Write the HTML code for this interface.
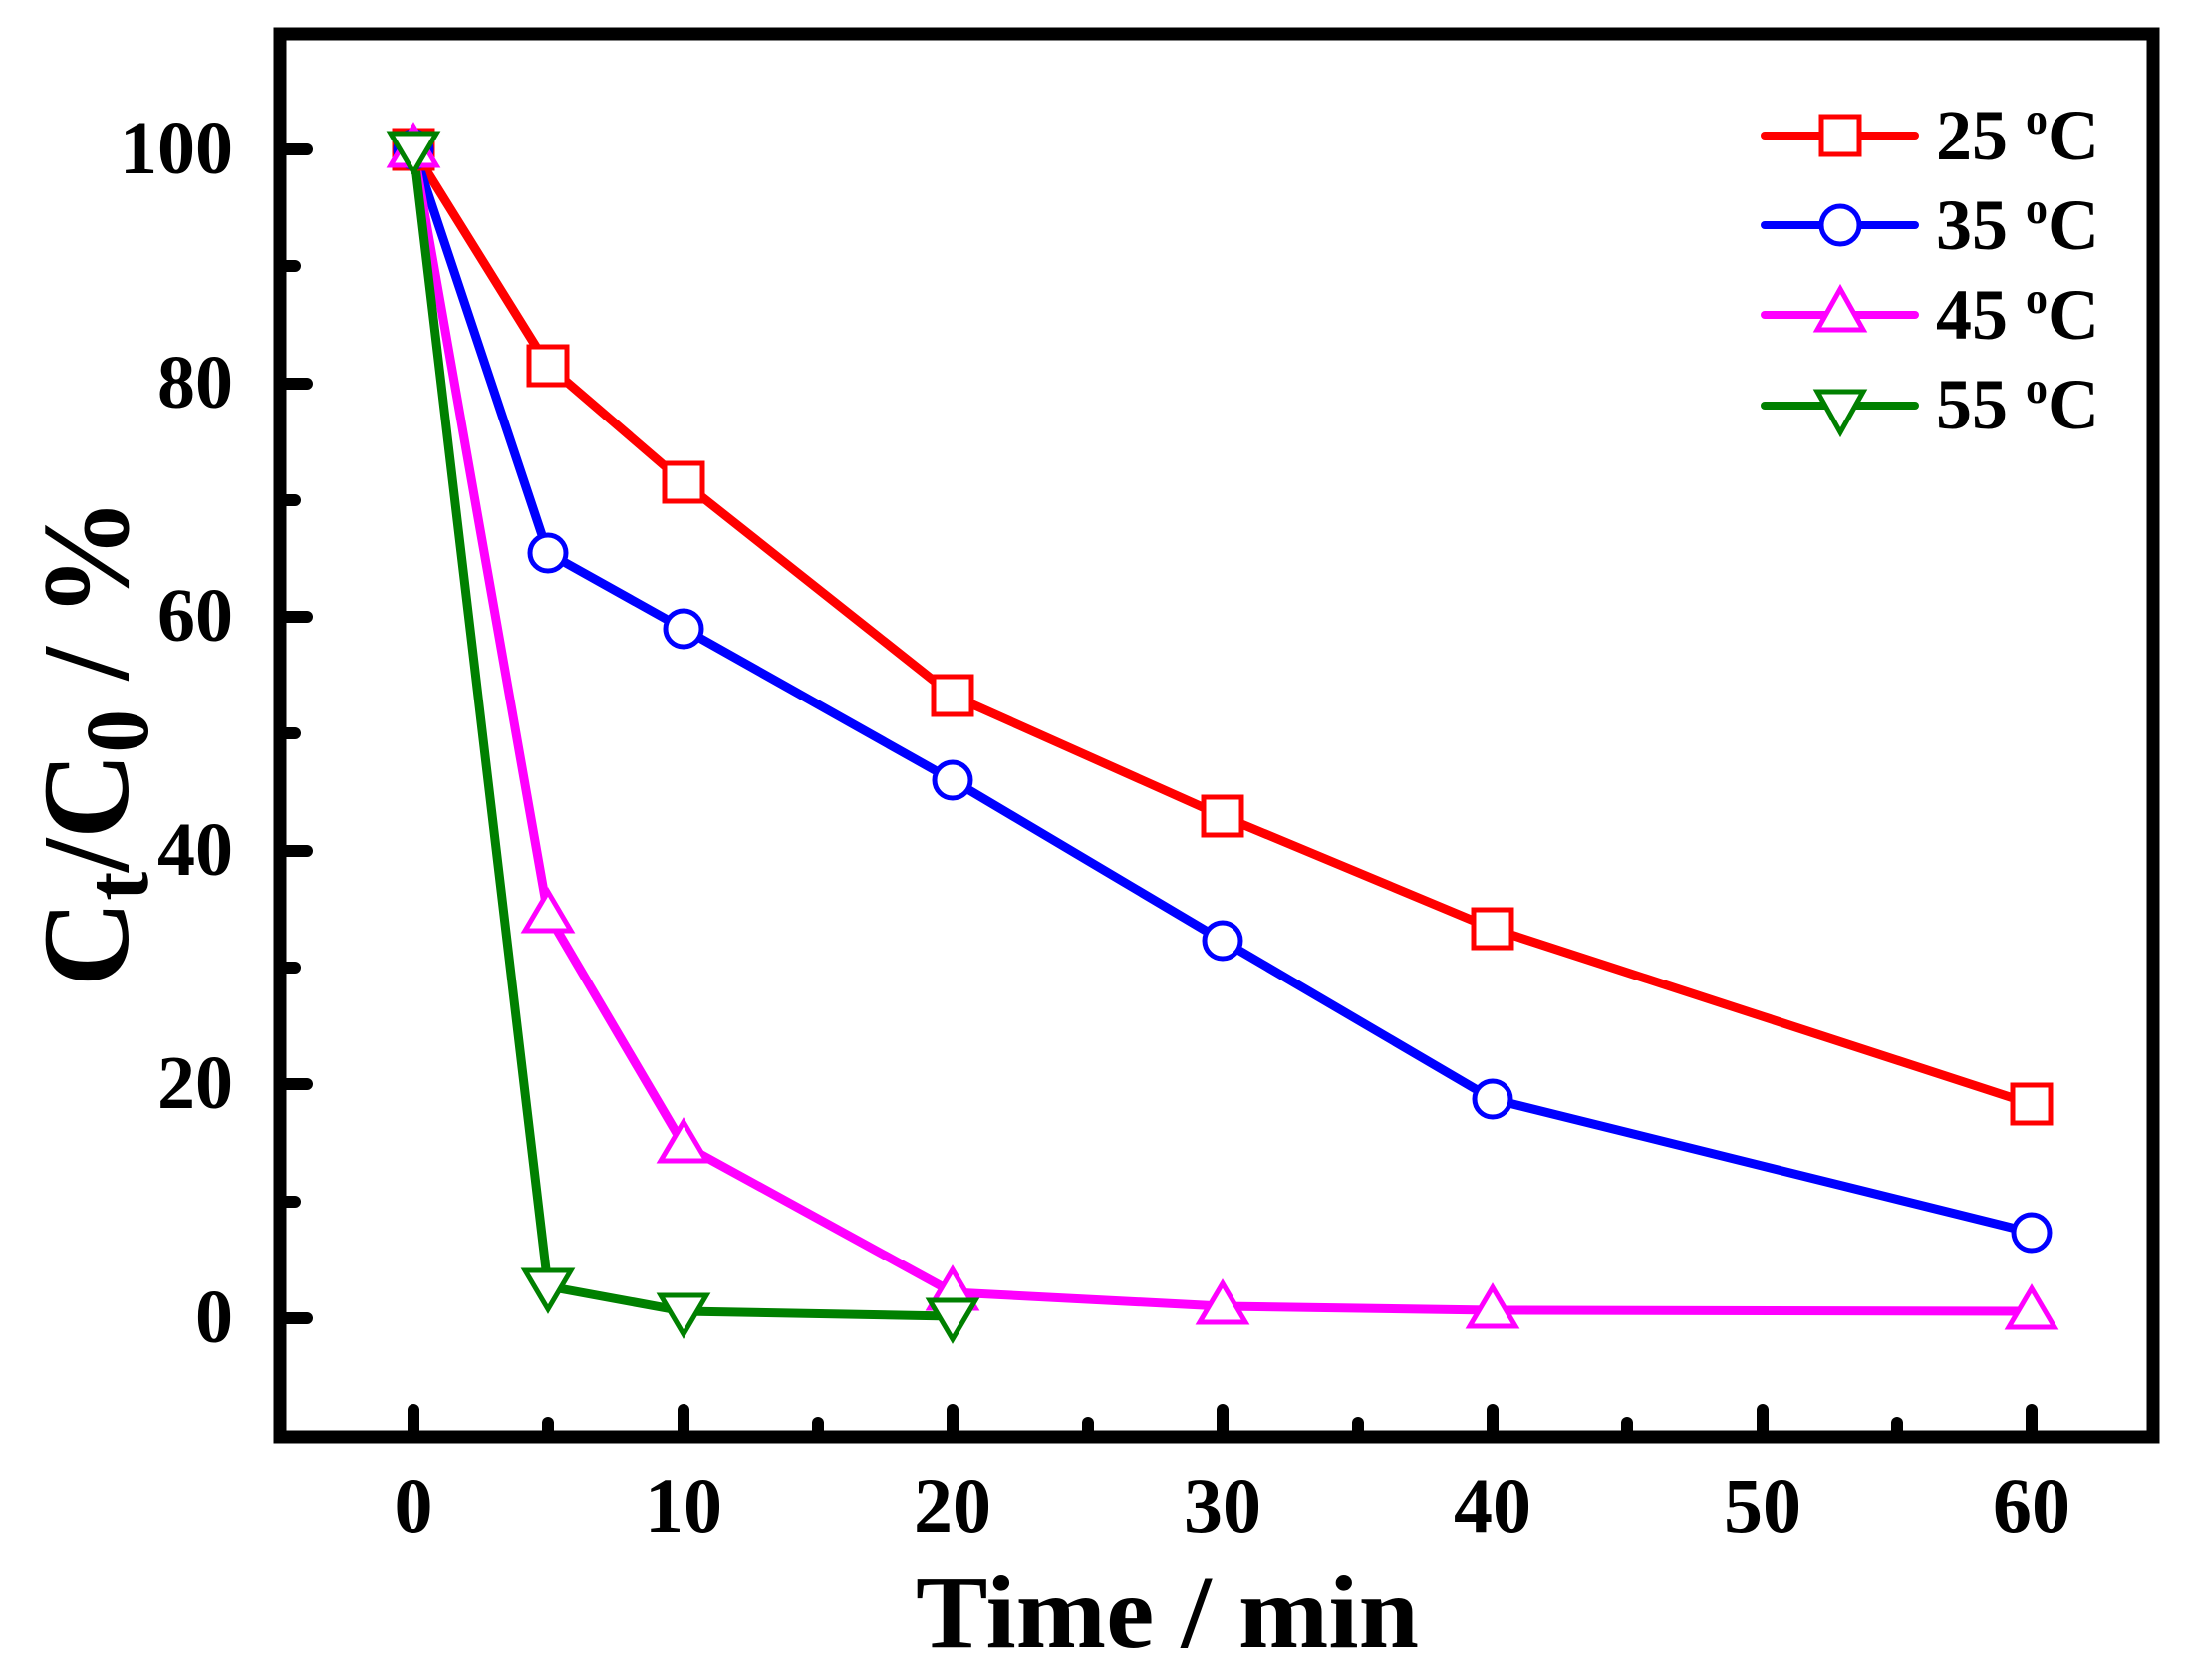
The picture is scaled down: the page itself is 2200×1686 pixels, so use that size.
<!DOCTYPE html>
<html><head><meta charset="utf-8"><style>html,body{margin:0;padding:0;background:#fff}svg{display:block}</style></head>
<body>
<svg width="2200" height="1686" viewBox="0 0 2200 1686" xmlns="http://www.w3.org/2000/svg" font-family="'Liberation Serif', serif" font-weight="bold">
<rect width="2200" height="1686" fill="#fff"/>
<g stroke="#000" stroke-width="12" stroke-linecap="round">
<line x1="281" y1="150" x2="308" y2="150"/>
<line x1="281" y1="385" x2="308" y2="385"/>
<line x1="281" y1="619" x2="308" y2="619"/>
<line x1="281" y1="854" x2="308" y2="854"/>
<line x1="281" y1="1088" x2="308" y2="1088"/>
<line x1="281" y1="1323" x2="308" y2="1323"/>
<line x1="281" y1="267" x2="296" y2="267"/>
<line x1="281" y1="502" x2="296" y2="502"/>
<line x1="281" y1="736" x2="296" y2="736"/>
<line x1="281" y1="971" x2="296" y2="971"/>
<line x1="281" y1="1206" x2="296" y2="1206"/>
<line x1="415" y1="1442" x2="415" y2="1415"/>
<line x1="686" y1="1442" x2="686" y2="1415"/>
<line x1="956" y1="1442" x2="956" y2="1415"/>
<line x1="1227" y1="1442" x2="1227" y2="1415"/>
<line x1="1498" y1="1442" x2="1498" y2="1415"/>
<line x1="1769" y1="1442" x2="1769" y2="1415"/>
<line x1="2039" y1="1442" x2="2039" y2="1415"/>
<line x1="550" y1="1442" x2="550" y2="1428"/>
<line x1="821" y1="1442" x2="821" y2="1428"/>
<line x1="1092" y1="1442" x2="1092" y2="1428"/>
<line x1="1363" y1="1442" x2="1363" y2="1428"/>
<line x1="1633" y1="1442" x2="1633" y2="1428"/>
<line x1="1904" y1="1442" x2="1904" y2="1428"/>
</g>
<rect x="281" y="34" width="1880" height="1408" fill="none" stroke="#000" stroke-width="13"/>

<g font-size="76" text-anchor="end" fill="#000">
<text x="234" y="174">100</text>
<text x="234" y="409">80</text>
<text x="234" y="643">60</text>
<text x="234" y="878">40</text>
<text x="234" y="1112">20</text>
<text x="234" y="1347">0</text>
</g>
<g font-size="78" text-anchor="middle" fill="#000">
<text x="415" y="1537">0</text>
<text x="686" y="1537">10</text>
<text x="956" y="1537">20</text>
<text x="1227" y="1537">30</text>
<text x="1498" y="1537">40</text>
<text x="1769" y="1537">50</text>
<text x="2039" y="1537">60</text>
</g>
<text x="919" y="1653" font-size="104" textLength="505" lengthAdjust="spacingAndGlyphs">Time / min</text>
<text transform="translate(128,990) rotate(-90)" font-size="124" textLength="490" lengthAdjust="spacingAndGlyphs">C<tspan font-size="90" dy="20">t</tspan><tspan dy="-20">/C</tspan><tspan font-size="90" dy="20">0</tspan><tspan dy="-20"> / %</tspan></text>

<g fill="none" stroke-width="9" stroke-linejoin="round">
<polyline stroke="#ff0000" points="415,150 550,367 686,484 956,698 1227,819 1498,932 2039,1108"/>
<polyline stroke="#0000ff" points="415,150 550,555 686,631 956,783 1227,944 1498,1103 2039,1237"/>
<polyline stroke="#ff00ff" points="415,150 550,918 686,1149 956,1297 1227,1311 1498,1315 2039,1316"/>
<polyline stroke="#008000" points="415,150 550,1291 686,1316 956,1321"/>
</g>
<g fill="#fff" stroke-width="5">
<g stroke="#ff0000">
<rect x="396" y="131" width="38" height="38"/><rect x="531" y="348" width="38" height="38"/><rect x="667" y="465" width="38" height="38"/><rect x="937" y="679" width="38" height="38"/><rect x="1208" y="800" width="38" height="38"/><rect x="1479" y="913" width="38" height="38"/><rect x="2020" y="1089" width="38" height="38"/>
</g>
<g stroke="#0000ff">
<circle cx="415" cy="150" r="18"/><circle cx="550" cy="555" r="18"/><circle cx="686" cy="631" r="18"/><circle cx="956" cy="783" r="18"/><circle cx="1227" cy="944" r="18"/><circle cx="1498" cy="1103" r="18"/><circle cx="2039" cy="1237" r="18"/>
</g>
<g stroke="#ff00ff">
<polygon points="415,127 438,166 392,166"/><polygon points="550,895 573,934 527,934"/><polygon points="686,1126 709,1165 663,1165"/><polygon points="956,1274 979,1313 933,1313"/><polygon points="1227,1288 1250,1327 1204,1327"/><polygon points="1498,1292 1521,1331 1475,1331"/><polygon points="2039,1293 2062,1332 2016,1332"/>
</g>
<g stroke="#008000">
<polygon points="415,173 438,134 392,134"/><polygon points="550,1314 573,1275 527,1275"/><polygon points="686,1339 709,1300 663,1300"/><polygon points="956,1344 979,1305 933,1305"/>
</g>
</g>

<g stroke-width="8" stroke-linecap="round">
<line x1="1771" y1="136" x2="1922" y2="136" stroke="#ff0000"/>
<line x1="1771" y1="226" x2="1922" y2="226" stroke="#0000ff"/>
<line x1="1771" y1="316" x2="1922" y2="316" stroke="#ff00ff"/>
<line x1="1771" y1="407" x2="1922" y2="407" stroke="#008000"/>
</g>
<g fill="#fff" stroke-width="5">
<rect x="1828" y="117" width="38" height="38" stroke="#ff0000"/>
<circle cx="1847" cy="226" r="19" stroke="#0000ff"/>
<polygon points="1847,290 1870,331 1824,331" stroke="#ff00ff"/>
<polygon points="1847,434 1870,393 1824,393" stroke="#008000"/>
</g>
<g font-size="72" fill="#000">
<text x="1943" y="160">25 <tspan font-size="44" dy="-26">o</tspan><tspan dy="26">C</tspan></text>
<text x="1943" y="250">35 <tspan font-size="44" dy="-26">o</tspan><tspan dy="26">C</tspan></text>
<text x="1943" y="340">45 <tspan font-size="44" dy="-26">o</tspan><tspan dy="26">C</tspan></text>
<text x="1943" y="430">55 <tspan font-size="44" dy="-26">o</tspan><tspan dy="26">C</tspan></text>
</g>
</svg>
</body></html>
